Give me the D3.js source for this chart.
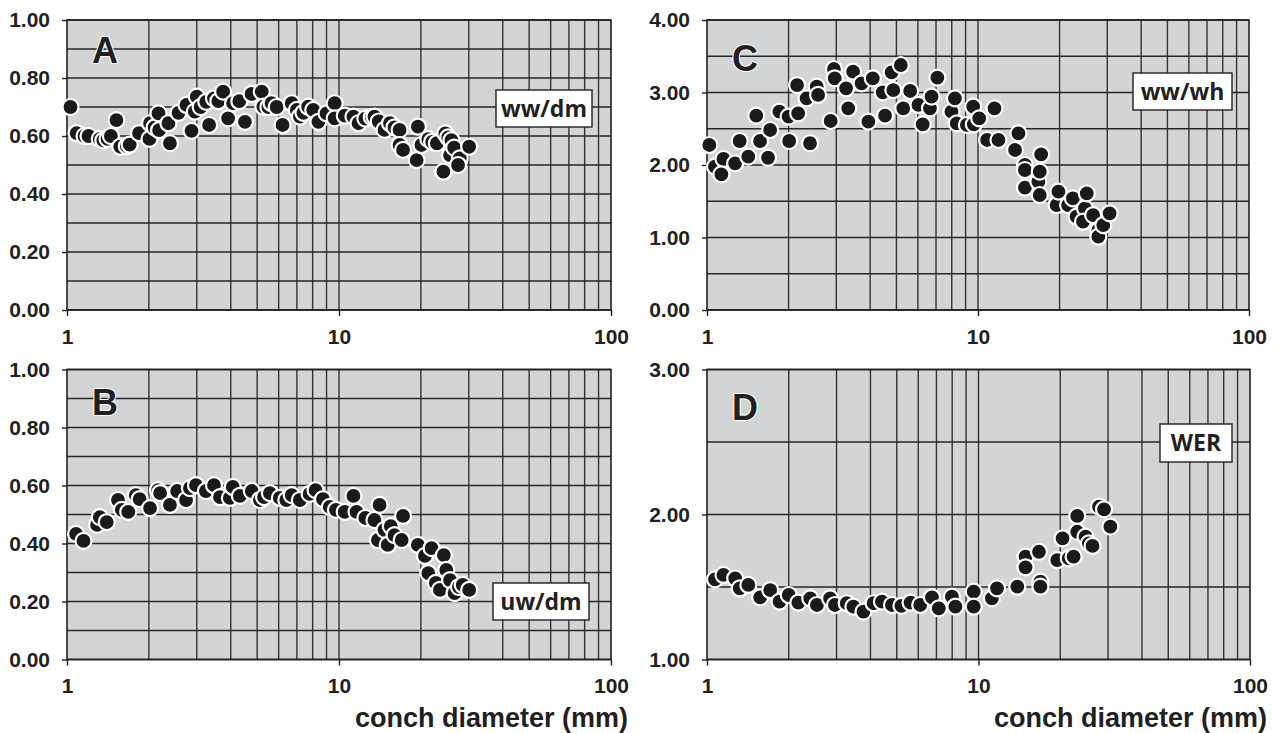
<!DOCTYPE html>
<html>
<head>
<meta charset="utf-8">
<script src="https://cdn.jsdelivr.net/npm/d3@7"></script>
<style>
  body { margin: 0; background: #fff; }
  .tick-label { font-family: "Liberation Sans", Arial, sans-serif; font-weight: bold; font-size: 21px; fill: #231f20; }
  .x-title { font-family: "Liberation Sans", Arial, sans-serif; font-weight: bold; font-size: 27px; fill: #231f20; }
  .letter { font-family: "Liberation Sans", Arial, sans-serif; font-weight: bold; font-size: 36px; fill: #231f20; stroke: #fff; stroke-width: 2; paint-order: stroke; }
  .box-label { font-family: "Open Sans", "Liberation Sans", sans-serif; font-weight: bold; font-size: 23px; fill: #231f20; }
</style>
</head>
<body>
<div id="chart"></div>
<script>
// conch diameter (mm) vs ratio
const ptsA = [
  [1.03,0.70],[1.085,0.61],[1.16,0.60],[1.2,0.60],[1.32,0.59],[1.36,0.585],[1.41,0.59],[1.45,0.60],[1.52,0.655],
  [1.57,0.563],[1.66,0.565],[1.70,0.57],[1.84,0.61],[2.01,0.59],[2.02,0.644],[2.1,0.63],[2.17,0.678],[2.18,0.62],
  [2.36,0.644],[2.39,0.575],[2.57,0.68],[2.75,0.707],[2.87,0.618],[2.95,0.684],[3.0,0.736],[3.1,0.70],
  [3.25,0.718],[3.33,0.638],[3.47,0.73],[3.6,0.72],[3.75,0.753],[3.91,0.661],[4.08,0.713],[4.3,0.72],
  [4.51,0.649],[4.77,0.745],[5.2,0.753],[5.27,0.701],[5.5,0.70],[5.65,0.713],[5.9,0.70],[6.2,0.638],[6.7,0.713],
  [7.0,0.69],[7.18,0.667],[7.4,0.68],[7.7,0.701],[8.04,0.69],[8.4,0.649],[9.0,0.678],[9.64,0.713],[9.64,0.661],
  [10.5,0.67],[11.3,0.667],[11.8,0.644],[12.5,0.66],[13.2,0.665],[13.5,0.667],[14.0,0.65],[14.7,0.621],[15.4,0.644],
  [16.0,0.63],[16.7,0.621],[16.7,0.569],[17.2,0.552],[19.5,0.632],[19.3,0.517],[20.1,0.569],[21.3,0.589],
  [22.0,0.58],[22.9,0.575],[24.2,0.477],[24.6,0.609],[25.2,0.595],[25.9,0.586],[25.6,0.534],[26.5,0.56],[27.8,0.523],
  [27.4,0.50],[30.1,0.563]
];
const ptsB = [
  [1.08,0.433],[1.15,0.409],[1.29,0.464],[1.32,0.491],[1.40,0.474],[1.54,0.55],[1.59,0.516],[1.68,0.509],
  [1.79,0.567],[1.85,0.553],[2.02,0.522],[2.16,0.584],[2.2,0.574],[2.39,0.533],[2.54,0.581],[2.74,0.55],
  [2.83,0.591],[2.98,0.601],[3.24,0.581],[3.47,0.601],[3.65,0.56],[3.97,0.557],[4.07,0.595],[4.32,0.564],
  [4.78,0.581],[5.12,0.55],[5.3,0.56],[5.57,0.574],[6.06,0.557],[6.4,0.55],[6.7,0.567],[7.18,0.55],[7.8,0.571],[8.2,0.584],
  [8.73,0.553],[9.25,0.526],[9.74,0.516],[10.5,0.509],[11.3,0.564],[11.6,0.509],[12.5,0.488],[13.5,0.481],
  [13.9,0.412],[14.1,0.533],[14.7,0.447],[15.1,0.395],[15.5,0.46],[16.0,0.429],[17.0,0.412],[17.2,0.495],[19.5,0.395],
  [20.7,0.357],[21.3,0.298],[21.9,0.384],[22.7,0.264],[23.5,0.24],[24.3,0.36],[24.8,0.309],[25.6,0.274],
  [26.6,0.229],[27.6,0.25],[28.5,0.257],[30.1,0.24]
];
const ptsC = [
  [1.02,2.276],[1.07,1.977],[1.15,2.083],[1.13,1.871],[1.27,2.023],[1.32,2.331],[1.42,2.115],[1.52,2.68],
  [1.57,2.331],[1.68,2.10],[1.71,2.483],[1.85,2.736],[2.0,2.667],[2.01,2.331],[2.17,2.713],[2.15,3.103],
  [2.33,2.92],[2.4,2.30],[2.54,3.08],[2.57,2.966],[2.86,2.607],[2.94,3.324],[2.96,3.196],[3.26,3.058],
  [3.32,2.782],[3.46,3.287],[3.72,3.127],[3.94,2.598],[4.09,3.196],[4.45,3.003],[4.54,2.68],[4.8,3.278],
  [4.87,3.034],[5.19,3.379],[5.3,2.782],[5.62,3.021],[6.03,2.828],[6.25,2.561],[6.65,2.782],[6.74,2.943],
  [7.08,3.204],[7.98,2.736],[8.22,2.92],[8.35,2.575],[9.1,2.552],[9.6,2.804],[9.65,2.561],[10.1,2.644],
  [10.8,2.345],[11.5,2.782],[11.9,2.345],[13.7,2.207],[14.1,2.437],[14.9,2.0],[14.9,1.931],[14.9,1.687],
  [16.7,1.77],[16.9,1.586],[17.1,2.147],[16.9,1.908],[19.5,1.448],[19.8,1.632],[21.5,1.448],[22.4,1.54],
  [23.1,1.287],[24.8,1.402],[25.2,1.609],[24.4,1.218],[26.6,1.31],[27.8,1.103],[27.8,1.011],[29.0,1.172],
  [30.6,1.334]
];
const ptsD = [
  [1.07,1.553],[1.15,1.583],[1.27,1.56],[1.32,1.49],[1.42,1.514],[1.57,1.429],[1.71,1.479],[1.85,1.399],
  [2.0,1.445],[2.17,1.392],[2.4,1.422],[2.54,1.376],[2.84,1.422],[2.96,1.376],[3.27,1.388],[3.46,1.364],
  [3.77,1.33],[4.11,1.388],[4.41,1.399],[4.8,1.376],[5.2,1.37],[5.62,1.392],[6.1,1.376],[6.74,1.429],
  [7.14,1.353],[7.98,1.433],[8.22,1.364],[9.6,1.468],[9.6,1.364],[11.2,1.422],[11.7,1.491],[13.9,1.502],
  [14.9,1.709],[14.9,1.636],[16.7,1.743],[16.9,1.537],[16.9,1.502],[19.5,1.686],[20.4,1.836],[21.5,1.698],
  [22.4,1.709],[23.1,1.99],[23.1,1.881],[24.8,1.847],[25.5,1.801],[26.3,1.783],[27.8,2.054],[29.0,2.036],
  [30.6,1.916]
];

const xTickValues = [1, 10, 100];
const xTickLabels = ["1", "10", "100"];
const xGridValues = [2,3,4,5,6,7,8,9,20,30,40,50,60,70,80,90];
const xTitle = "conch diameter (mm)";

const panels = [
  { letter: "A", label: "ww/dm", pts: ptsA, yDomain: [0, 1], yGrid: 0.1, yLabel: 0.2,
    left: 67, top: 20, right: 611, bottom: 310, letterY: 43, box: [19, 70, 96, 37], title: false },
  { letter: "B", label: "uw/dm", pts: ptsB, yDomain: [0, 1], yGrid: 0.1, yLabel: 0.2,
    left: 67, top: 369.5, right: 611, bottom: 659.5, letterY: 45.5, box: [22, 213.5, 96, 37], title: true },
  { letter: "C", label: "ww/wh", pts: ptsC, yDomain: [0, 4], yGrid: 0.5, yLabel: 1,
    left: 707, top: 20, right: 1249, bottom: 310, letterY: 51, box: [17, 53, 99, 37], title: false },
  { letter: "D", label: "WER", pts: ptsD, yDomain: [1, 3], yGrid: 0.5, yLabel: 1,
    left: 707, top: 369.5, right: 1250, bottom: 659.5, letterY: 50.5, box: [18, 54.5, 72, 38], title: true }
];

const svg = d3.select("#chart").append("svg")
  .attr("width", 1282).attr("height", 733);

function range(a, b, step) {
  const out = [];
  const n = Math.round((b - a) / step);
  for (let i = 0; i <= n; i++) out.push(+(a + i * step).toFixed(4));
  return out;
}

panels.forEach(p => {
  const x = d3.scaleLog().domain([1, 100]).range([p.left, p.right]);
  const y = d3.scaleLinear().domain(p.yDomain).range([p.bottom, p.top]);
  const g = svg.append("g");

  g.append("rect")
    .attr("x", p.left).attr("y", p.top)
    .attr("width", p.right - p.left).attr("height", p.bottom - p.top)
    .attr("fill", "#d3d4d6");

  // grid
  g.selectAll(".vgrid").data(xGridValues.concat([10])).enter().append("line")
    .attr("x1", d => x(d)).attr("x2", d => x(d))
    .attr("y1", p.top).attr("y2", p.bottom)
    .attr("stroke", "#333").attr("stroke-width", 1.4);
  g.selectAll(".hgrid").data(range(p.yDomain[0], p.yDomain[1], p.yGrid)).enter().append("line")
    .attr("x1", p.left).attr("x2", p.right)
    .attr("y1", d => y(d)).attr("y2", d => y(d))
    .attr("stroke", "#262626").attr("stroke-width", 1.4);

  g.append("rect")
    .attr("x", p.left).attr("y", p.top)
    .attr("width", p.right - p.left).attr("height", p.bottom - p.top)
    .attr("fill", "none").attr("stroke", "#231f20").attr("stroke-width", 1.6);

  // y axis
  const yAxis = d3.axisLeft(y).tickValues(range(p.yDomain[0], p.yDomain[1], p.yLabel))
    .tickFormat(d3.format(".2f")).tickSize(5).tickPadding(12);
  const ya = g.append("g").attr("transform", `translate(${p.left},0)`).call(yAxis);
  ya.select(".domain").remove();
  ya.selectAll("line").attr("stroke", "#231f20").attr("stroke-width", 1.4);
  ya.selectAll("text").attr("class", "tick-label").attr("font-size", null).attr("font-family", null);

  // x axis
  const xAxis = d3.axisBottom(x).tickValues(xTickValues)
    .tickFormat((d, i) => xTickLabels[i]).tickSize(6).tickPadding(13);
  const xa = g.append("g").attr("transform", `translate(0,${p.bottom})`).call(xAxis);
  xa.select(".domain").remove();
  xa.selectAll("line").attr("stroke", "#231f20").attr("stroke-width", 1.4);
  xa.selectAll("text").attr("class", "tick-label").attr("font-size", null).attr("font-family", null);

  // points
  g.selectAll(".pt").data(p.pts).enter().append("circle")
    .attr("cx", d => x(d[0])).attr("cy", d => y(d[1]))
    .attr("r", 8)
    .attr("fill", "#1a1a1a").attr("stroke", "#fff").attr("stroke-width", 2.2);

  // panel letter
  g.append("text").attr("class", "letter")
    .attr("x", p.left + 25).attr("y", p.top + p.letterY)
    .text(p.letter);

  // variable label box
  const [ro, to, bw, bh] = p.box;
  const bx = p.right - ro - bw, by = p.top + to;
  g.append("rect").attr("x", bx).attr("y", by).attr("width", bw).attr("height", bh)
    .attr("fill", "#fff").attr("stroke", "#231f20").attr("stroke-width", 1.4);
  g.append("text").attr("class", "box-label")
    .attr("x", bx + bw / 2).attr("y", by + bh / 2 + 8)
    .attr("text-anchor", "middle").text(p.label);

  if (p.title) {
    g.append("text").attr("class", "x-title")
      .attr("x", p.right + 17).attr("y", 727)
      .attr("text-anchor", "end").text(xTitle);
  }
});
</script>
</body>
</html>
